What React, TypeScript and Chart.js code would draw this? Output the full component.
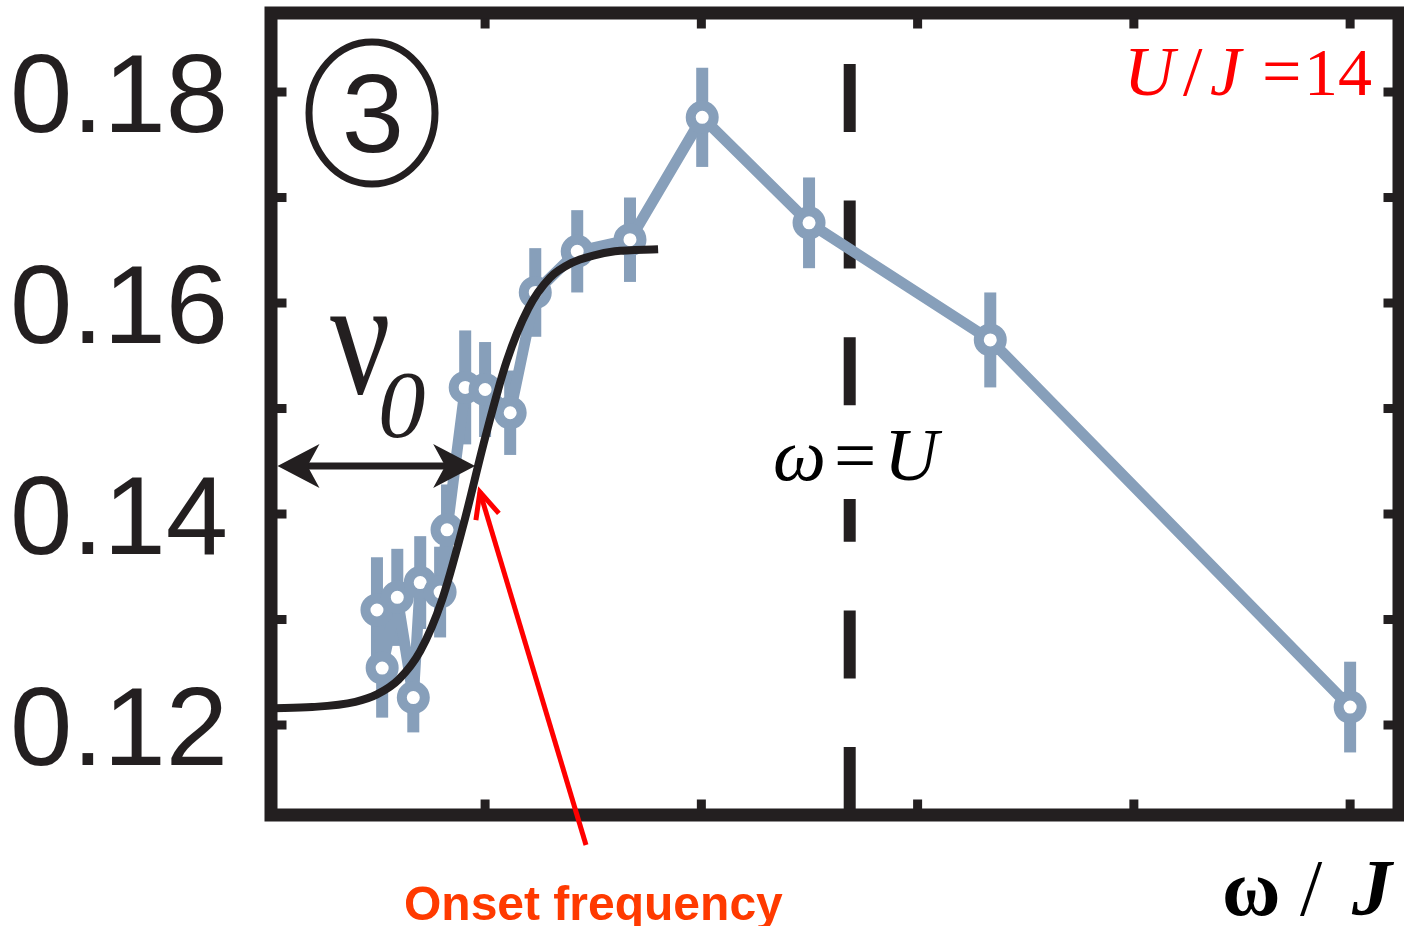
import React, { useEffect, useRef } from 'react';
import { Chart, registerables } from 'chart.js';

Chart.register(...registerables);

// measured points (ω/J, signal) with error bars
const omegaValues = [2.5, 2.62, 2.97, 3.34, 3.5, 3.96, 4.12, 4.54, 5.0, 5.58, 6.16, 7.13, 8.35, 10.02, 12.49, 16.68, 25.0];
const signalValues = [0.1309, 0.1254, 0.1321, 0.1226, 0.1335, 0.1326, 0.1385, 0.152, 0.1518, 0.1496, 0.161, 0.1649, 0.166, 0.1776, 0.1676, 0.1565, 0.1217];
const signalErrors = [0.005, 0.0047, 0.0046, 0.0033, 0.0044, 0.0043, 0.0043, 0.0054, 0.0045, 0.004, 0.0042, 0.0039, 0.004, 0.0047, 0.0043, 0.0045, 0.0043];

// fitted onset curve
const fitOmega = [0.05, 1, 2, 2.5, 3, 3.5, 4, 4.5, 5, 5.5, 6, 6.5, 7, 7.5, 8, 9.0];
const fitValues = [0.1216, 0.1217, 0.1222, 0.1229, 0.1243, 0.127, 0.1318, 0.139, 0.1472, 0.1545, 0.1595, 0.1624, 0.1638, 0.1645, 0.1649, 0.1651];

const yTicks = [0.12, 0.13, 0.14, 0.15, 0.16, 0.17, 0.18];
const yTickLabels = ['0.12', '', '0.14', '', '0.16', '', '0.18'];
const xTicks = [5, 10, 15, 20, 25];

const resonanceOmega = 13.43; // ω = U
const onsetOmega = 4.77;
const onsetValue = 0.14455;

const X_MIN = 0.05;
const X_MAX = 26.13;
const Y_MIN = 0.11147;
const Y_MAX = 0.18749;

const INK = '#231f20';
const BLUE = '#879fba';

const errorBarPlugin = {
  id: 'errorBars',
  beforeDatasetsDraw(chart: any) {
    const { ctx } = chart;
    const xs = chart.scales.x;
    const ys = chart.scales.y;
    ctx.save();
    ctx.fillStyle = BLUE;
    omegaValues.forEach((w, i) => {
      const px = xs.getPixelForValue(w);
      const y1 = ys.getPixelForValue(signalValues[i] + signalErrors[i]);
      const y2 = ys.getPixelForValue(signalValues[i] - signalErrors[i]);
      ctx.fillRect(px - 6, y1, 12, y2 - y1);
    });
    ctx.restore();
  },
};

const decorPlugin = {
  id: 'decor',
  afterDatasetsDraw(chart: any) {
    const { ctx, chartArea } = chart;
    const xs = chart.scales.x;
    const ys = chart.scales.y;
    const { left, right, top, bottom } = chartArea;
    const half = 6.5;
    ctx.save();

    // frame
    ctx.strokeStyle = INK;
    ctx.lineWidth = 13;
    ctx.lineJoin = 'miter';
    ctx.strokeRect(left, top, right - left, bottom - top);

    // inward ticks
    ctx.fillStyle = INK;
    for (const v of yTicks) {
      const py = ys.getPixelForValue(v);
      ctx.fillRect(left + half - 1, py - 4.5, 10, 9);
      ctx.fillRect(right - half - 9, py - 4.5, 10, 9);
    }
    for (const v of xTicks) {
      const px = xs.getPixelForValue(v);
      ctx.fillRect(px - 4.5, bottom - half - 9, 9, 10);
      ctx.fillRect(px - 4.5, top + half - 1, 9, 10);
    }

    // ω = U label with white backing
    ctx.fillStyle = '#ffffff';
    ctx.fillRect(770, 418, 170, 81);
    ctx.fillStyle = '#000000';
    ctx.textBaseline = 'alphabetic';
    ctx.textAlign = 'left';
    ctx.font = 'italic 75px "Liberation Serif"';
    ctx.fillText('ω', 773, 480);
    ctx.font = '75px "Liberation Serif"';
    ctx.fillText('=', 834, 480);
    ctx.font = 'italic 75px "Liberation Serif"';
    ctx.fillText('U', 884, 480);

    // U / J = 14
    ctx.fillStyle = '#ff0000';
    ctx.font = 'italic 70px "Liberation Serif"';
    ctx.fillText('U', 1124, 95);
    ctx.font = '70px "Liberation Serif"';
    ctx.fillText('/', 1183, 95);
    ctx.font = 'italic 70px "Liberation Serif"';
    ctx.fillText('J', 1210, 95);
    ctx.font = '70px "Liberation Serif"';
    ctx.fillText('=', 1262, 95);
    ctx.font = '68px "Liberation Serif"';
    ctx.fillText('14', 1304, 95);

    // circled 3
    ctx.strokeStyle = INK;
    ctx.lineWidth = 7;
    ctx.beginPath();
    ctx.ellipse(372, 113, 63, 71, 0, 0, Math.PI * 2);
    ctx.stroke();
    ctx.fillStyle = INK;
    ctx.font = '112px "Liberation Sans"';
    ctx.textAlign = 'center';
    ctx.fillText('3', 373, 152);

    // ν0
    ctx.textAlign = 'left';
    ctx.save();
    ctx.translate(330, 393);
    ctx.scale(0.8, 1);
    ctx.font = '168px "Liberation Serif"';
    ctx.fillText('ν', 0, 0);
    ctx.restore();
    ctx.font = 'italic 95px "Liberation Serif"';
    ctx.fillText('0', 378, 437);

    // double arrow from the axis to the onset
    const ay = ys.getPixelForValue(onsetValue);
    const ax1 = left + half;
    const ax2 = xs.getPixelForValue(onsetOmega);
    ctx.strokeStyle = INK;
    ctx.lineWidth = 7;
    ctx.beginPath();
    ctx.moveTo(ax1 + 20, ay);
    ctx.lineTo(ax2 - 20, ay);
    ctx.stroke();
    ctx.beginPath();
    ctx.moveTo(ax1, ay);
    ctx.lineTo(ax1 + 42, ay - 22);
    ctx.lineTo(ax1 + 30, ay);
    ctx.lineTo(ax1 + 42, ay + 22);
    ctx.closePath();
    ctx.fill();
    ctx.beginPath();
    ctx.moveTo(ax2, ay);
    ctx.lineTo(ax2 - 42, ay - 22);
    ctx.lineTo(ax2 - 30, ay);
    ctx.lineTo(ax2 - 42, ay + 22);
    ctx.closePath();
    ctx.fill();

    // red arrow to onset
    const tipX = xs.getPixelForValue(4.88);
    const tipY = ys.getPixelForValue(0.1421);
    const tailX = 586;
    const tailY = 845;
    const dx = tailX - tipX;
    const dy = tailY - tipY;
    const len = Math.hypot(dx, dy);
    const ux = dx / len;
    const uy = dy / len;
    const px = -uy;
    const py = ux;
    ctx.strokeStyle = '#ff0000';
    ctx.lineWidth = 5;
    ctx.lineCap = 'butt';
    ctx.beginPath();
    ctx.moveTo(tailX, tailY);
    ctx.lineTo(tipX, tipY);
    ctx.stroke();
    ctx.lineJoin = 'miter';
    ctx.beginPath();
    ctx.moveTo(tipX + 26 * ux + 12 * px, tipY + 26 * uy + 12 * py);
    ctx.lineTo(tipX, tipY);
    ctx.lineTo(tipX + 26 * ux - 12 * px, tipY + 26 * uy - 12 * py);
    ctx.stroke();

    // Onset frequency
    ctx.fillStyle = '#ff3a00';
    ctx.font = 'bold 48px "Liberation Sans"';
    ctx.fillText('Onset frequency', 404, 920);

    // axis title ω / J
    ctx.fillStyle = '#000000';
    ctx.font = 'bold 80px "Liberation Serif"';
    ctx.fillText('ω', 1222, 915);
    ctx.font = '80px "Liberation Serif"';
    ctx.fillText('/', 1300, 915);
    ctx.font = 'italic bold 80px "Liberation Serif"';
    ctx.fillText('J', 1352, 915);

    ctx.restore();
  },
};

function zeroPadding(scale: any) {
  scale.paddingTop = 0;
  scale.paddingBottom = 0;
  scale.paddingLeft = 0;
  scale.paddingRight = 0;
}

export default function App() {
  const canvasRef = useRef<HTMLCanvasElement | null>(null);

  useEffect(() => {
    const canvas = canvasRef.current;
    if (!canvas) return;
    const chart = new Chart(canvas, {
      type: 'line',
      data: {
        datasets: [
          {
            label: 'fit',
            data: fitOmega.map((x, i) => ({ x, y: fitValues[i] })),
            borderColor: INK,
            borderWidth: 8,
            pointRadius: 0,
            cubicInterpolationMode: 'monotone',
            borderCapStyle: 'butt',
            order: 0,
          },
          {
            label: 'signal',
            data: omegaValues.map((x, i) => ({ x, y: signalValues[i] })),
            borderColor: BLUE,
            borderWidth: 11,
            borderJoinStyle: 'round',
            pointRadius: 11.5,
            pointBorderWidth: 10,
            pointBackgroundColor: '#ffffff',
            pointBorderColor: BLUE,
            tension: 0,
            order: 1,
          },
          {
            label: 'ω = U',
            data: [
              { x: resonanceOmega, y: Y_MIN },
              { x: resonanceOmega, y: Y_MAX },
            ],
            borderColor: INK,
            borderWidth: 12,
            borderDash: [68, 68.6],
            borderCapStyle: 'butt',
            pointRadius: 0,
            order: 2,
          },
        ] as any,
      },
      options: {
        animation: false,
        responsive: false,
        devicePixelRatio: 1,
        layout: { autoPadding: false, padding: { top: 13, right: 5, bottom: 111, left: 0 } },
        plugins: { legend: { display: false }, tooltip: { enabled: false } },
        scales: {
          x: {
            type: 'linear',
            min: X_MIN,
            max: X_MAX,
            display: false,
            afterFit: zeroPadding,
          },
          y: {
            type: 'linear',
            min: Y_MIN,
            max: Y_MAX,
            afterFit(scale: any) {
              scale.width = 271;
              zeroPadding(scale);
            },
            afterBuildTicks(scale: any) {
              scale.ticks = yTicks.map((v) => ({ value: v }));
            },
            ticks: {
              callback: (_v: any, index: number) => yTickLabels[index] ?? '',
              font: { family: '"Liberation Sans"', size: 112 },
              color: INK,
              padding: 43,
              labelOffset: 9,
              autoSkip: false,
            },
            grid: { display: false, drawTicks: false },
            border: { display: false },
          },
        },
      } as any,
      plugins: [errorBarPlugin, decorPlugin],
    });
    return () => chart.destroy();
  }, []);

  return (
    <div style={{ position: 'absolute', left: 0, top: 0, width: 1404, height: 926, background: '#fff' }}>
      <canvas ref={canvasRef} width={1404} height={926} style={{ display: 'block' }} />
    </div>
  );
}
